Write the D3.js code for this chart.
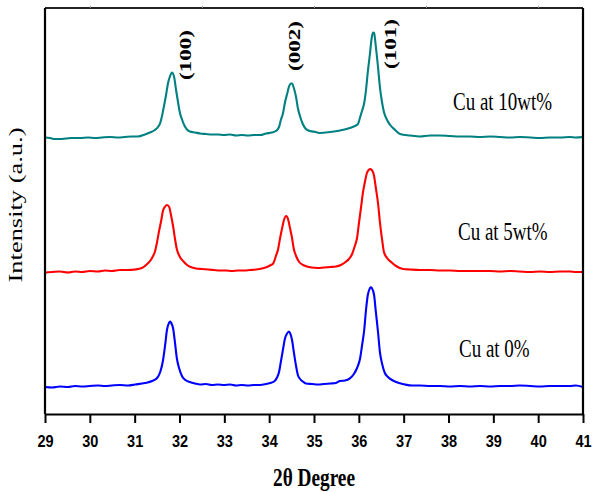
<!DOCTYPE html>
<html><head><meta charset="utf-8">
<script src="https://cdn.jsdelivr.net/npm/d3@7"></script>
<style>body{margin:0;background:#fff}svg{display:block}</style>
</head><body>
<svg id="c" width="592" height="492"></svg>
<script>
// ---- data (2θ in degrees, intensity in arbitrary units) ----
const xTicks = [29,30,31,32,33,34,35,36,37,38,39,40,41];
const topTicks = [30,32.5,35,37.5,40];
const seriesNames = ["Cu at 0%","Cu at 5wt%","Cu at 10wt%"];
const seriesColors = ["#0000ff","#ff0000","#008080"];
const peakLabels = ["(100)","(002)","(101)"];

const theta0 = [29.00,29.16,29.33,29.51,29.67,29.83,30.00,30.18,30.34,30.49,30.67,30.85,31.01,31.23,31.39,31.50,31.57,31.63,31.68,31.72,31.77,31.79,31.81,31.86,31.90,31.94,31.99,32.06,32.15,32.23,32.35,32.46,32.59,32.72,32.86,32.99,33.13,33.26,33.39,33.53,33.66,33.80,33.93,34.02,34.11,34.17,34.22,34.26,34.31,34.35,34.40,34.44,34.46,34.51,34.55,34.60,34.64,34.69,34.75,34.82,34.96,35.09,35.22,35.36,35.49,35.58,35.69,35.80,35.89,35.96,36.03,36.07,36.12,36.16,36.20,36.25,36.27,36.29,36.34,36.38,36.43,36.47,36.52,36.58,36.65,36.74,36.83,36.92,37.03,37.19,37.36,37.59,37.81,38.03,38.26,38.48,38.70,38.93,39.15,39.37,39.59,39.82,40.04,40.26,40.49,40.71,40.84,41.00];
const int0 = [27,26.5,27.5,27,28,27.5,28,28.5,28,28.5,29,28.5,29.5,31,33,36,42,53,69,84,91.5,92.5,91.5,85,71,56,46,37.5,33.5,32,30.5,29.5,30,29,29.5,29,29.5,28.5,29,28.5,29,29,30,31,32.5,36,42,52,65,75,80.5,82.5,81.5,74,62,48,39,35,32.5,30.5,30,29.5,30,30.5,31,33,33.5,35.7,40,46,56,68,84,104,119,126,126.7,126,119,102,81,62,50,41,37,34,32,30.7,29.5,28.5,28.5,28,28,27.5,28,27.5,28,27.5,28,28,28.5,28,27.5,28,28,28,28.5,27];

const theta1 = [29.00,29.16,29.33,29.51,29.67,29.83,30.00,30.18,30.34,30.49,30.67,30.85,31.01,31.16,31.28,31.36,31.41,31.45,31.50,31.54,31.59,31.63,31.68,31.72,31.77,31.81,31.86,31.90,31.94,32.01,32.08,32.17,32.28,32.37,32.50,32.64,32.77,32.90,33.04,33.17,33.30,33.44,33.57,33.71,33.84,33.95,34.02,34.09,34.15,34.20,34.24,34.29,34.33,34.38,34.42,34.46,34.51,34.55,34.60,34.67,34.78,34.91,35.09,35.22,35.36,35.49,35.60,35.69,35.78,35.85,35.91,35.96,36.00,36.05,36.09,36.14,36.18,36.23,36.25,36.29,36.34,36.38,36.43,36.47,36.52,36.56,36.63,36.72,36.83,36.99,37.14,37.36,37.59,37.81,38.03,38.26,38.48,38.70,38.93,39.15,39.37,39.59,39.82,40.04,40.26,40.49,40.71,40.84,41.00];
const int1 = [141.5,142,142.5,141.5,142.5,142,143,142.5,143.5,143,144,144,144.5,146,150,154,158,162,172,182,193,203,207.5,209,207,199,187,175,165,157,153,149,146.5,145.5,145,144.5,144,143.5,143.5,143,143.5,143.5,144,144.5,145.5,147,148.5,150.5,158,165,175,186,194,198,195,187,176,165,158,152,148.5,146.7,146,146.5,147,147.5,149,151.5,155,160,168,176,190,207,221,233,241,244.5,245,244,238,226,210,192,174,162,156,152,148,145,144.5,144,144,143.5,143.5,143,143,143,143,142.5,143,142.5,142,142.5,142,142.5,142.5,142,142];

const theta2 = [29.00,29.11,29.22,29.33,29.47,29.60,29.78,29.96,30.12,30.27,30.45,30.63,30.78,30.94,31.07,31.23,31.34,31.45,31.52,31.57,31.61,31.65,31.70,31.74,31.79,31.83,31.88,31.92,31.97,32.01,32.06,32.12,32.23,32.35,32.46,32.59,32.72,32.86,32.99,33.13,33.26,33.39,33.53,33.66,33.80,33.93,34.06,34.15,34.22,34.26,34.31,34.35,34.40,34.44,34.49,34.51,34.55,34.60,34.64,34.69,34.75,34.82,34.91,35.04,35.13,35.36,35.58,35.80,35.89,35.98,36.03,36.07,36.12,36.16,36.20,36.25,36.29,36.32,36.34,36.38,36.43,36.47,36.52,36.56,36.63,36.70,36.81,36.92,37.14,37.36,37.59,37.81,38.03,38.26,38.48,38.70,38.93,39.15,39.37,39.59,39.82,40.04,40.26,40.49,40.71,40.84,41.00];
const int2 = [276.5,276,275,275,275.5,276,276,276.5,276,276.5,277,276.5,277,277.5,277.5,279.5,281.5,284,287,291,298,307,319,330,338,341.5,337,325,311,301,294,287.5,282.5,281.5,280.5,280,279.5,279.5,279,279.5,278.5,279,278.5,279,279,280.5,281.5,283,287,294,301,311,320,327,330.5,330.5,326,317,306,297.5,290,285,283,282,281,282,283.5,286,287.5,290,297,303,311,324,342,361,377,381.5,381,367,346,327,311,302,294,289,284,280,278.5,277.5,278.5,278.5,278,277.5,277.5,277,277.5,277,276.5,277,276.5,276,276.5,276.5,277,276.5,277];

const thetas = [theta0, theta1, theta2];
const ints = [int0, int1, int2];

// ---- layout ----
const mL = 45, mR = 583, mT = 8, mB = 414;
const svg = d3.select("#c");
const x = d3.scaleLinear().domain([29,41]).range([mL,mR]);
const y = d3.scaleLinear().domain([0,406]).range([mB,mT]);

const line = d3.line().x(d => x(d[0])).y(d => y(d[1])).curve(d3.curveMonotoneX);

// curves
thetas.forEach((th, i) => {
  const pts = th.map((t, j) => [t, ints[i][j]]);
  svg.append("path").datum(pts)
    .attr("d", line).attr("fill","none")
    .attr("stroke", seriesColors[i]).attr("stroke-width", 2.1)
    .attr("stroke-linejoin","round");
});

// frame
svg.append("line").attr("x1",mL).attr("x2",mR).attr("y1",mT).attr("y2",mT)
  .attr("stroke","#222").attr("stroke-width",2);
svg.append("line").attr("x1",mR).attr("x2",mR).attr("y1",mT).attr("y2",mB)
  .attr("stroke","#000").attr("stroke-width",2.2);
svg.append("line").attr("x1",mL).attr("x2",mL).attr("y1",mT).attr("y2",mB)
  .attr("stroke","#000").attr("stroke-width",2.2);

// top minor ticks
const topAxis = svg.append("g").attr("transform",`translate(0,${mT})`)
  .call(d3.axisTop(x).tickValues(topTicks).tickSize(2).tickFormat(""));
topAxis.select(".domain").remove();
topAxis.selectAll(".tick line").attr("stroke","#999").attr("stroke-width",1);

// bottom axis
const bAxis = svg.append("g").attr("transform",`translate(0,${mB})`)
  .call(d3.axisBottom(x).tickValues(xTicks).tickSize(9).tickSizeOuter(0).tickFormat(d3.format("d")));
bAxis.select(".domain").attr("stroke","#000").attr("stroke-width",2.2);
bAxis.selectAll(".tick line").attr("stroke","#000").attr("stroke-width",2);
bAxis.selectAll(".tick text")
  .attr("y", 28.3).attr("dy", 0)
  .attr("transform","scale(1,1.15)")
  .attr("font-family","'Liberation Sans', Arial, sans-serif")
  .attr("font-weight","bold").attr("font-size",14.5).attr("fill","#000");

// axis titles
svg.append("text").attr("transform","translate(314,486) scale(1,1.3)")
  .attr("text-anchor","middle")
  .attr("font-family","'Liberation Serif','Times New Roman',serif")
  .attr("font-weight","bold").attr("font-size",19)
  .attr("textLength",82).attr("lengthAdjust","spacingAndGlyphs")
  .text("2θ Degree");

svg.append("text").attr("transform","translate(22,205) rotate(-90)")
  .attr("text-anchor","middle")
  .attr("font-family","'Liberation Serif','Times New Roman',serif")
  .attr("font-size",18)
  .attr("textLength",155).attr("lengthAdjust","spacingAndGlyphs")
  .text("Intensity (a.u.)");

// peak labels
const peakLabelPos = [[191,55],[300,46],[396,44]];
peakLabels.forEach((t,i) => {
  svg.append("text")
    .attr("transform",`translate(${peakLabelPos[i][0]},${peakLabelPos[i][1]}) rotate(-90)`)
    .attr("text-anchor","middle")
    .attr("font-family","'Liberation Serif','Times New Roman',serif")
    .attr("font-weight","bold").attr("font-size",17)
    .attr("textLength",50).attr("lengthAdjust","spacingAndGlyphs")
    .text(t);
});

// series labels
const labelPos = [[459,356.5],[458,240],[453,110]];
seriesNames.forEach((t,i) => {
  svg.append("text")
    .attr("transform",`translate(${labelPos[i][0]},${labelPos[i][1]}) scale(1,1.3)`)
    .attr("font-family","'Liberation Serif','Times New Roman',serif")
    .attr("font-size",19).attr("fill","#000")
    .text(t);
});
</script>
</body></html>
